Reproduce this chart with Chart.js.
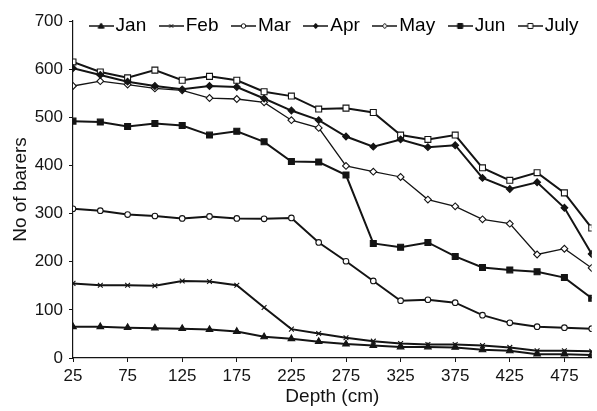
<!DOCTYPE html>
<html lang="en">
<head>
<meta charset="UTF-8">
<title>No of barers by depth</title>
<script src="https://cdn.jsdelivr.net/npm/chart.js@4.4.1/dist/chart.umd.min.js"></script>
<style>
  html, body { margin: 0; padding: 0; background: #fff; }
  #wrap { width: 597px; height: 411px; }
</style>
</head>
<body>
<div id="wrap"><canvas id="depthChart"></canvas></div>
<script>
// depth classes (cm) and the labelled ticks
const depths = [25, 50, 75, 100, 125, 150, 175, 200, 225, 250, 275, 300, 325, 350, 375, 400, 425, 450, 475, 500];
const xTicks = [25, 75, 125, 175, 225, 275, 325, 375, 425, 475];
const months = ['Jan', 'Feb', 'Mar', 'Apr', 'May', 'Jun', 'July'];

// no of barers per month
const jan = [65, 65, 63, 62, 61, 59, 55, 44, 40, 34, 29, 26, 23, 23, 22, 17, 15, 8, 8, 6];
const feb = [155, 151, 151, 150, 160, 159, 151, 105, 60, 51, 42, 35, 30, 28, 28, 26, 22, 15, 15, 14];
const mar = [310, 306, 298, 295, 290, 294, 290, 289, 291, 240, 201, 160, 119, 121, 115, 89, 73, 65, 63, 61];
const apr = [602, 588, 574, 565, 558, 565, 563, 539, 514, 494, 460, 439, 454, 438, 442, 374, 351, 365, 312, 216];
const may = [565, 575, 568, 560, 556, 540, 538, 531, 494, 478, 399, 387, 376, 329, 315, 288, 279, 215, 227, 187];
const jun = [492, 490, 481, 487, 483, 463, 471, 449, 408, 407, 380, 238, 230, 240, 211, 188, 183, 179, 167, 124];
const jul = [615, 594, 582, 598, 577, 585, 577, 553, 544, 517, 519, 510, 463, 454, 463, 395, 369, 385, 343, 270];

const series = [jan, feb, mar, apr, may, jun, jul];

const ink = '#141414';
const fontFamily = "'Liberation Sans', Arial, Helvetica, sans-serif";
Chart.defaults.font.family = fontFamily;
Chart.defaults.color = ink;

// marker look for each month
const marks = [
  { style: 'triangle', fill: ink, r: 3.8, line: 2 },
  { style: 'crossRot', fill: ink, r: 3.4, line: 2 },
  { style: 'circle', fill: '#fff', r: 2.8, line: 2 },
  { style: 'rectRot', fill: ink, r: 3.4, line: 2 },
  { style: 'rectRot', fill: '#fff', r: 3.4, line: 1.3 },
  { style: 'rect', fill: ink, r: 4.2, line: 2 },
  { style: 'rect', fill: '#fff', r: 4.2, line: 2 }
];

// little line + marker picture for the legend
function legendIcon(m) {
  const c = document.createElement('canvas');
  c.width = 25; c.height = 12;
  const g = c.getContext('2d');
  const x = 12.5, y = 6, r = m.r * 0.8;
  g.strokeStyle = ink;
  g.lineWidth = 1.5;
  g.beginPath(); g.moveTo(0, y); g.lineTo(25, y); g.stroke();
  g.fillStyle = m.fill;
  g.lineWidth = 1;
  g.beginPath();
  if (m.style === 'triangle') {
    g.moveTo(x, y - r); g.lineTo(x + r, y + r * 0.7); g.lineTo(x - r, y + r * 0.7); g.closePath();
    g.fill(); g.stroke();
  } else if (m.style === 'crossRot') {
    g.moveTo(x - r * 0.7, y - r * 0.7); g.lineTo(x + r * 0.7, y + r * 0.7);
    g.moveTo(x + r * 0.7, y - r * 0.7); g.lineTo(x - r * 0.7, y + r * 0.7);
    g.stroke();
  } else if (m.style === 'circle') {
    g.arc(x, y, r, 0, Math.PI * 2); g.fill(); g.stroke();
  } else if (m.style === 'rectRot') {
    g.moveTo(x, y - r); g.lineTo(x + r * 0.8, y); g.lineTo(x, y + r); g.lineTo(x - r * 0.8, y); g.closePath();
    g.fill(); g.stroke();
  } else {
    const s = r * 0.75;
    g.rect(x - s, y - s, 2 * s, 2 * s); g.fill(); g.stroke();
  }
  return c;
}

const icons = marks.map(legendIcon);

const datasets = series.map((vals, i) => ({
  label: months[i],
  data: depths.map((d, j) => ({ x: d, y: vals[j] })),
  borderColor: ink,
  borderWidth: marks[i].line,
  backgroundColor: marks[i].fill,
  pointStyle: marks[i].style,
  pointRadius: marks[i].r,
  pointBorderColor: ink,
  pointBackgroundColor: marks[i].fill,
  pointBorderWidth: 1.1,
  tension: 0,
  fill: false
}));

// legend sits inside the plot without taking layout space
const floatLegend = {
  id: 'floatLegend',
  beforeLayout(chart) {
    const lg = chart.legend;
    if (lg && !lg._floated) {
      const fit = lg.fit;
      lg.fit = function () {
        fit.call(this);
        this._fullHeight = this.height;
        this.height = 0;
      };
      lg._floated = true;
    }
  },
  afterLayout(chart) {
    const lg = chart.legend;
    if (!lg) return;
    // widen the box a little so the last item does not wrap
    lg.left = chart.chartArea.left - 20;
    lg.right = chart.chartArea.right + 30;
    lg.top = -3.5;
    lg.bottom = lg.top + (lg._fullHeight || 60);
  }
};

const ctx = document.getElementById('depthChart');
new Chart(ctx, {
  type: 'line',
  data: { datasets: datasets },
  plugins: [floatLegend],
  options: {
    responsive: true,
    maintainAspectRatio: false,
    animation: false,
    layout: { padding: { top: 21, right: 0, bottom: 0, left: 0 } },
    plugins: {
      tooltip: { enabled: false },
      legend: {
        display: true,
        position: 'top',
        labels: {
          usePointStyle: true,
          pointStyleWidth: 10,
          padding: 20,
          color: ink,
          font: { size: 19, lineHeight: 1 },
          generateLabels: (chart) => chart.data.datasets.map((ds, i) => ({
            text: ds.label,
            pointStyle: icons[i],
            fillStyle: ink,
            strokeStyle: ink,
            lineWidth: 0,
            hidden: false,
            datasetIndex: i
          }))
        }
      }
    },
    scales: {
      x: {
        type: 'linear',
        min: 25,
        max: 500,
        afterBuildTicks: (s) => { s.ticks = xTicks.map(v => ({ value: v })); },
        afterFit: (s) => { s.height = 53; },
        grid: { drawOnChartArea: false, drawTicks: true, tickLength: 4, color: ink, lineWidth: 1 },
        border: { display: true, color: ink, width: 1.2 },
        ticks: { font: { size: 17 }, color: ink, padding: 4, maxRotation: 0, autoSkip: false },
        title: { display: true, text: 'Depth (cm)', color: ink, font: { size: 19 }, padding: { top: 0, bottom: 3 } }
      },
      y: {
        min: 0,
        max: 700,
        afterFit: (s) => { s.width = 73; },
        grid: { drawOnChartArea: false, drawTicks: true, tickLength: 4, color: ink, lineWidth: 1 },
        border: { display: true, color: ink, width: 1.2 },
        ticks: { stepSize: 100, font: { size: 17 }, color: ink, padding: 6 },
        title: { display: true, text: 'No of barers', color: ink, font: { size: 19 }, padding: { top: 9, bottom: 0 } }
      }
    }
  }
});
</script>
</body>
</html>
